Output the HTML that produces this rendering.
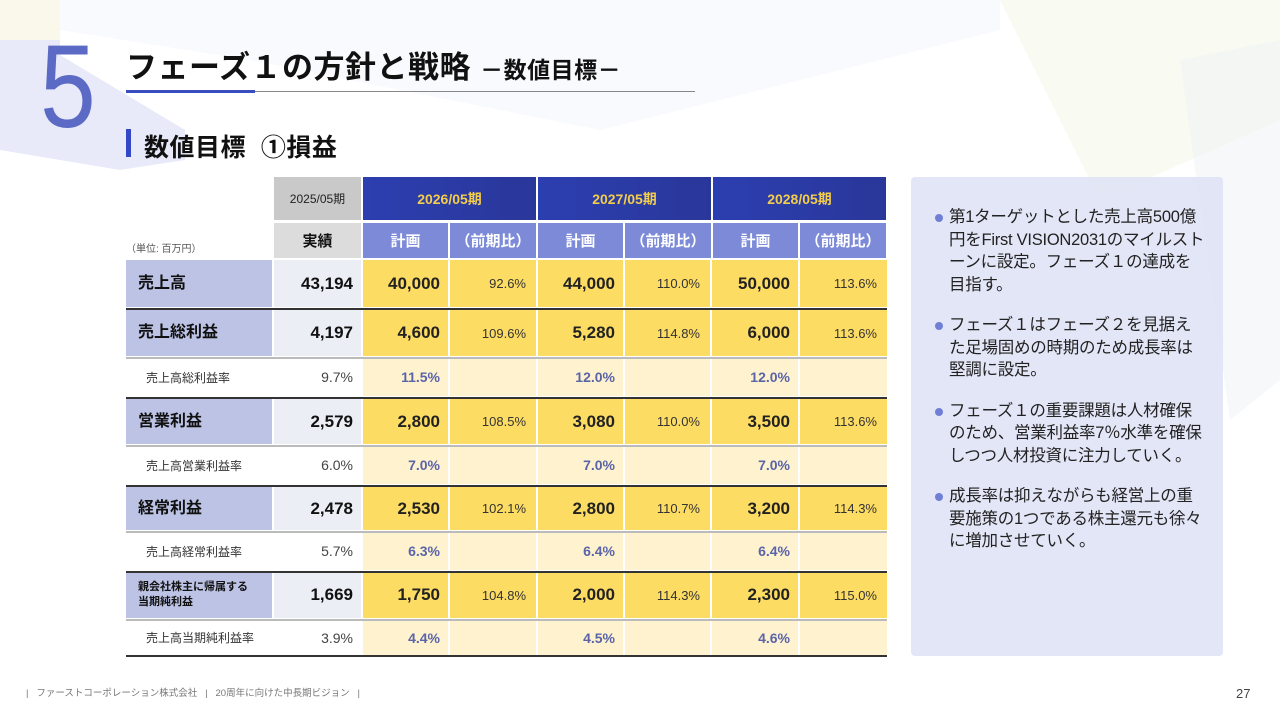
<!DOCTYPE html>
<html><head><meta charset="utf-8">
<style>
*{margin:0;padding:0;box-sizing:border-box}
body{width:1280px;height:720px;position:relative;overflow:hidden;background:#fff;font-family:"Liberation Sans","Noto Sans CJK JP",sans-serif;color:#111}
.abs{position:absolute}
.cell{position:absolute;display:flex;align-items:center;white-space:nowrap}
.panel p{position:relative;padding-left:16px;margin-bottom:18px;letter-spacing:-0.25px}
.panel p:before{content:"";position:absolute;left:2px;top:8px;width:8px;height:8px;border-radius:50%;background:#6f7fd6}
</style></head><body>
<svg class="abs" width="1280" height="720" style="left:0;top:0">
<polygon points="0,0 60,0 60,40 0,40" fill="#f6f4dc" opacity="0.6"/>
<polygon points="0,40 60,40 60,55 185,130 185,160 120,170 0,150" fill="#e2e5f7" opacity="0.8"/>
<polygon points="60,0 1000,0 1000,30 600,130 250,60 60,30" fill="#eef0fa" opacity="0.35"/>
<polygon points="1000,0 1280,0 1280,120 1100,200" fill="#f4f6e6" opacity="0.5"/>
<polygon points="1180,60 1280,40 1280,380 1230,420" fill="#eef1f4" opacity="0.5"/>
</svg>
<div class="abs" style="left:40px;top:28px;font-size:118px;line-height:118px;color:#5b6bc5;font-weight:300;transform:scaleX(0.85);transform-origin:left">5</div>
<div class="abs" style="left:126px;top:42px;font-size:31px;font-weight:bold;white-space:nowrap;letter-spacing:0.5px">フェーズ１の方針と戦略 <span style="font-size:23px">－数値目標－</span></div>
<div class="abs" style="left:126px;top:91px;width:569px;height:1px;background:#888"></div>
<div class="abs" style="left:126px;top:90px;width:129px;height:3px;background:#3a4dbf"></div>
<div class="abs" style="left:126px;top:129px;width:5px;height:28px;background:#3348c7"></div>
<div class="abs" style="left:144px;top:128px;font-size:25px;font-weight:bold;white-space:nowrap;letter-spacing:0.5px">数値目標&nbsp;&nbsp;①損益</div>
<div class="abs" style="left:126px;top:240px;font-size:10px;color:#555">（単位: 百万円）</div>
<div id="table"></div>
<div class="abs panel" style="left:911px;top:177px;width:312px;height:479px;background:rgba(222,226,246,0.85);border-radius:4px;padding:29px 18px 0 22px;font-size:16.5px;line-height:22.5px;color:#222">
<p>第1ターゲットとした売上高500億円をFirst VISION2031のマイルストーンに設定。フェーズ１の達成を目指す。</p>
<p>フェーズ１はフェーズ２を見据えた足場固めの時期のため成長率は堅調に設定。</p>
<p>フェーズ１の重要課題は人材確保のため、営業利益率7％水準を確保しつつ人材投資に注力していく。</p>
<p>成長率は抑えながらも経営上の重要施策の1つである株主還元も徐々に増加させていく。</p>
</div>
<div class="abs" style="left:26px;top:685px;font-size:9.5px;color:#777;white-space:nowrap">|&nbsp;&nbsp;&nbsp;ファーストコーポレーション株式会社&nbsp;&nbsp;&nbsp;|&nbsp;&nbsp;&nbsp;20周年に向けた中長期ビジョン&nbsp;&nbsp;&nbsp;|</div>
<div class="abs" style="left:1236px;top:686px;font-size:13px;color:#444">27</div>
<script>
const rowLabels=["売上高","売上総利益","売上高総利益率","営業利益","売上高営業利益率","経常利益","売上高経常利益率","親会社株主に帰属する<br>当期純利益","売上高当期純利益率"];
const rowIsSub=[0,0,1,0,1,0,1,0,1];
const actual=["43,194","4,197","9.7%","2,579","6.0%","2,478","5.7%","1,669","3.9%"];
const plan2026=["40,000","4,600","11.5%","2,800","7.0%","2,530","6.3%","1,750","4.4%"];
const ratio2026=["92.6%","109.6%","","108.5%","","102.1%","","104.8%",""];
const plan2027=["44,000","5,280","12.0%","3,080","7.0%","2,800","6.4%","2,000","4.5%"];
const ratio2027=["110.0%","114.8%","","110.0%","","110.7%","","114.3%",""];
const plan2028=["50,000","6,000","12.0%","3,500","7.0%","3,200","6.4%","2,300","4.6%"];
const ratio2028=["113.6%","113.6%","","113.6%","","114.3%","","115.0%",""];
const years=["2026/05期","2027/05期","2028/05期"];
const T=document.getElementById('table');
const colX=[[126,272],[274,361],[363,448],[450,536],[538,623],[625,710],[712,798],[800,887]];
const rowTop=[260,310,358,399,446,487,532,572,620];
const rowBot=[307,356,396,444,484,530,570,618,655];
function cell(x,y,w,h,txt,st,name){
 const d=document.createElement('div');d.className='cell';
 d.style.cssText=`left:${x}px;top:${y}px;width:${w}px;height:${h}px;`+st;
 d.innerHTML=txt;
 
 
 T.appendChild(d);
}
function line(y,c,name){const d=document.createElement('div');d.className='abs';d.style.cssText=`left:126px;top:${y}px;width:761px;height:1.5px;background:${c}`;
 
 
 T.appendChild(d);}
cell(274,177,87,43,"2025/05期","background:#c9c9c9;justify-content:center;font-size:12px;color:#222","header-2025");
years.forEach((y,i)=>{const x=363+i*175;
 cell(x,177,173,43,y,"background:linear-gradient(90deg,#2c3fb0,#2a379a);justify-content:center;font-size:14px;font-weight:bold;color:#f3cd4c","header-year");
 cell(x,223,85,35,"計画","background:#7c8ad8;justify-content:center;font-size:15px;font-weight:bold;color:#fff","header-plan");
 cell(x+87,223,86,35,"（前期比）","background:#7c8ad8;justify-content:center;font-size:15px;font-weight:bold;color:#fff","header-ratio");});
cell(274,223,87,35,"実績","background:#dcdcdc;justify-content:center;font-size:15px;font-weight:bold","header-actual");
const cols=[actual,plan2026,ratio2026,plan2027,ratio2027,plan2028,ratio2028];
rowLabels.forEach((lab,r)=>{
 const sub=rowIsSub[r];const y=rowTop[r];const h=rowBot[r]-y;
 const long=lab.includes('<br>');
 cell(126,y,146,h,lab,sub?"padding-left:20px;font-size:12px;color:#333":`background:#bcc3e5;padding-left:12px;font-weight:bold;font-size:${long?11:16}px;line-height:${long?15:20}px`,"row-label");
 cols.forEach((arr,c)=>{const [x0,x1]=colX[c+1];
  let bg,st;
  if(c==0){bg=sub?"#fff":"#eceef6";st=sub?"font-size:14px;color:#444":"font-size:17px;font-weight:bold";}
  else{bg=sub?"#fff3cf":"#fddc63";
   if(c%2==1) st=sub?"font-size:14px;color:#5a64a8;font-weight:bold":"font-size:17px;font-weight:bold;color:#222";
   else st="font-size:13px;color:#333";}
  cell(x0,y,x1-x0,h,arr[r],`background:${bg};justify-content:flex-end;padding-right:${c%2==0&&c>0?10:8}px;${st}`,"value-cell");
 });
});
[357,445,531,619].forEach(yy=>line(yy,"#bbb","row-separator"));
[308,397,485,571].forEach(yy=>line(yy,"#333","row-separator"));
line(655,"#333","table-bottom");
</script>
</body></html>
